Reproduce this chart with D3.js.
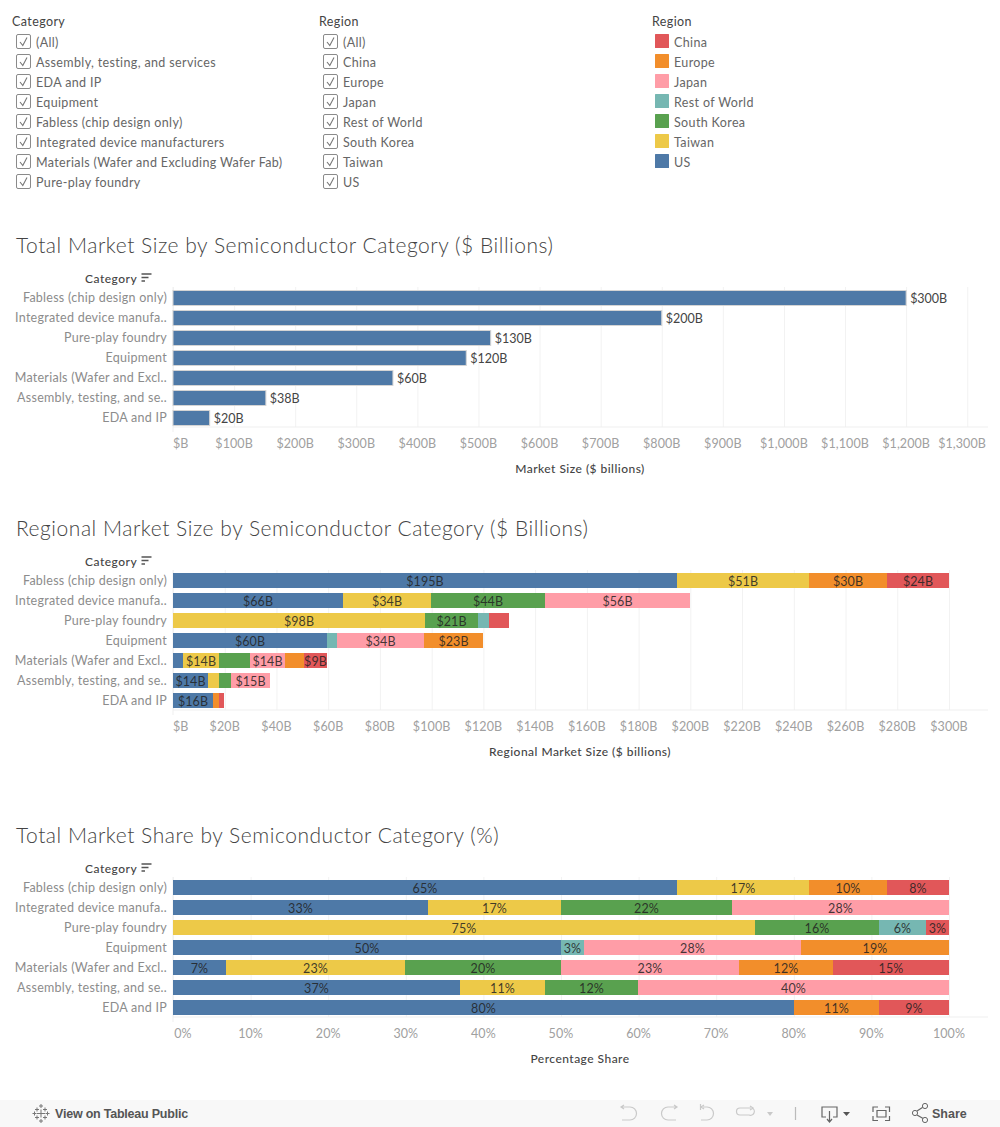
<!DOCTYPE html>
<html><head><meta charset="utf-8">
<script src="https://cdn.jsdelivr.net/npm/d3@7"></script>
<style>
html,body{margin:0;padding:0;background:#fff;overflow:hidden}
svg{display:block}
text{font-family:Lato,"Open Sans",sans-serif}
</style></head><body><svg id="c" width="1000" height="1127"></svg>
<script>
const filterCategories=["(All)","Assembly, testing, and services","EDA and IP","Equipment","Fabless (chip design only)","Integrated device manufacturers","Materials (Wafer and Excluding Wafer Fab)","Pure-play foundry"];
const filterRegions=["(All)","China","Europe","Japan","Rest of World","South Korea","Taiwan","US"];
const regions=["China","Europe","Japan","Rest of World","South Korea","Taiwan","US"];
const regionColors=["#E15759","#F28E2B","#FF9DA7","#76B7B2","#59A14F","#EDC948","#4E79A7"];
const categories=["Fabless (chip design only)","Integrated device manufa..","Pure-play foundry","Equipment","Materials (Wafer and Excl..","Assembly, testing, and se..","EDA and IP"];

const totalValues=[1200,800,520,480,360,152,60];
const totalLabels=["$300B","$200B","$130B","$120B","$60B","$38B","$20B"];
const totalTicks=[0,100,200,300,400,500,600,700,800,900,1000,1100,1200,1300];
const regionalTicks=[0,20,40,60,80,100,120,140,160,180,200,220,240,260,280,300];
const shareTicks=[0,10,20,30,40,50,60,70,80,90,100];

const rowRegions=[
 ["US","Taiwan","Europe","China"],
 ["US","Taiwan","South Korea","Japan"],
 ["Taiwan","South Korea","Rest of World","China"],
 ["US","Rest of World","Japan","Europe"],
 ["US","Taiwan","South Korea","Japan","Europe","China"],
 ["US","Taiwan","South Korea","Japan"],
 ["US","Europe","China"]];
const regionalValues=[
 [195,51,30,24],
 [65.7,34,44,56.3],
 [97.5,20.5,4.2,7.8],
 [59.6,3.7,33.7,22.8],
 [3.9,13.9,11.9,13.5,7.3,9],
 [13.6,4.2,4.6,15.1],
 [15.5,2.3,1.9]];
const regionalLabels=[
 ["$195B","$51B","$30B","$24B"],
 ["$66B","$34B","$44B","$56B"],
 ["$98B","$21B","",""],
 ["$60B","","$34B","$23B"],
 ["","$14B","","$14B","","$9B"],
 ["$14B","","","$15B"],
 ["$16B","",""]];
const shareValues=[
 [65,16.9,10.1,8],
 [32.9,17.1,22,28],
 [75,16,6,3],
 [50,3,27.9,19.1],
 [6.8,23.1,20.1,23,12,15],
 [37,10.9,12,40.1],
 [80,11,9]];

const svg=d3.select("#c");
const color=d3.scaleOrdinal(regions,regionColors);

function txt(x,y,s,o={}){return svg.append("text").attr("x",x).attr("y",y).text(s)
 .attr("font-size",o.size||12.5).attr("fill",o.fill||"#666").attr("text-anchor",o.anchor||"start")
 .attr("font-weight",o.weight||400).attr("letter-spacing",o.ls==null?0.36:o.ls);}

// filters
function checklist(title,items,hx,bx){
 txt(hx,26,title,{fill:"#444",ls:0.4});
 items.forEach((d,i)=>{
  const y=34.5+i*20;
  svg.append("rect").attr("x",bx+.5).attr("y",y).attr("width",14).attr("height",14).attr("rx",1.5).attr("fill","#fff").attr("stroke","#8a8a8a");
  svg.append("path").attr("d",`M${bx+4} ${y+7.5}L${bx+6.8} ${y+11}L${bx+11} ${y+3}`).attr("fill","none").attr("stroke","#777").attr("stroke-width",1.1);
  txt(bx+20,y+12,d);
 });
}
checklist("Category",filterCategories,12,16);
checklist("Region",filterRegions,319,323);
txt(652,26,"Region",{fill:"#444",ls:0.4});
regions.forEach((d,i)=>{
 const y=34+i*20;
 svg.append("rect").attr("x",655).attr("y",y).attr("width",14).attr("height",14).attr("rx",.5).attr("fill",color(d));
 txt(674,y+12.5,d);
});

// shared chart frame
const L=173,R=988,BANDH=20;
function frame(top,titleY,title,axisTitle,axisTitleX,scale,ticks,fmt){
 txt(16,titleY,title,{size:21,fill:"#444",weight:300,ls:0.53});
 txt(85,top-4,"Category",{fill:"#444",size:12,weight:500,ls:0.5});
 svg.append("path").attr("d",`M141.5 ${top-13}H151.5M141.5 ${top-9.5}H148.5M141.5 ${top-6}H145`).attr("stroke","#555").attr("stroke-width",1.5).attr("fill","none");
 const y=d3.scaleBand().domain(categories).range([top,top+BANDH*7]);
 const g=svg.append("g").attr("transform",`translate(0,${top+140})`);
 const ax=d3.axisBottom(scale).tickValues(ticks).tickSize(-140).tickFormat("");
 g.call(ax);
 g.selectAll(".tick line").attr("stroke","#f2f2f2");
 g.select(".domain").remove();
 svg.append("line").attr("x1",L).attr("x2",R).attr("y1",top+140).attr("y2",top+140).attr("stroke","#efefef");
 svg.append("line").attr("x1",L).attr("x2",L).attr("y1",top).attr("y2",top+145).attr("stroke","#efefef");
 categories.forEach(c=>txt(167,y(c)+15,c,{anchor:"end",fill:"#8c8c8c",ls:0.26}));
 ticks.forEach((t,i)=>{
  const s=fmt(t),px=scale(t);
  const w=s.length*7;
  if(i===0&&s==="$B") txt(L,top+161,s,{fill:"#a0a0a0",ls:0.1});
  else if(i===0) txt(L+10,top+161,s,{anchor:"middle",fill:"#a0a0a0",ls:0.1});
  else if(px+w/2>R) txt(R-2,top+161,s,{anchor:"end",fill:"#a0a0a0",ls:0.1});
  else txt(px,top+161,s,{anchor:"middle",fill:"#a0a0a0",ls:0.1});
 });
 txt(axisTitleX,top+186,axisTitle,{anchor:"middle",fill:"#444",size:12,weight:500,ls:0.47});
 return y;
}

// chart 1
const x1=d3.scaleLinear().domain([0,1334]).range([L,R]);
const y1=frame(287,252.5,"Total Market Size by Semiconductor Category ($ Billions)","Market Size ($ billions)",580,x1,totalTicks,t=>t===0?"$B":t>=1000?`$${d3.format(",")(t)}B`:`$${t}B`);
svg.append("g").selectAll("rect").data(totalValues).join("rect")
 .attr("x",x1(0)).attr("y",(d,i)=>y1(categories[i])+3.5).attr("width",d=>x1(d)-x1(0)).attr("height",15)
 .attr("fill","#4E79A7").attr("stroke","#d4d4d4").attr("stroke-width",1);
totalValues.forEach((d,i)=>txt(x1(d)+4,y1(categories[i])+15.5,totalLabels[i],{fill:"#444",ls:0}));

// stacked helper
function stacked(y,x,values,labelFn){
 values.forEach((row,i)=>{
  let acc=0;
  row.forEach((v,j)=>{
   const a=acc,b=acc+v;acc=b;
   const xa=Math.round(x(a)),xb=Math.round(x(b));
   svg.append("rect").attr("x",xa).attr("y",y(categories[i])+3).attr("width",xb-xa).attr("height",15).attr("fill",color(rowRegions[i][j]));
   const s=labelFn(i,j);
   if(s) txt((xa+xb)/2,y(categories[i])+16,s,{anchor:"middle",fill:"#222",ls:0.1}).attr("fill-opacity",.85);
  });
 });
}

// chart 2
const x2=d3.scaleLinear().domain([0,300]).range([L,949]);
const y2=frame(570,535.5,"Regional Market Size by Semiconductor Category ($ Billions)","Regional Market Size ($ billions)",580,x2,regionalTicks,t=>t===0?"$B":`$${t}B`);
stacked(y2,x2,regionalValues,(i,j)=>regionalLabels[i][j]);

// chart 3
const x3=d3.scaleLinear().domain([0,100]).range([L,949]);
const y3=frame(877,842.5,"Total Market Share by Semiconductor Category (%)","Percentage Share",580,x3,shareTicks,t=>`${t}%`);
stacked(y3,x3,shareValues,(i,j)=>`${Math.round(shareValues[i][j])}%`);

// footer
svg.append("rect").attr("x",0).attr("y",1100).attr("width",1000).attr("height",27).attr("fill","#f8f8f8");
const ft=(x,s,fill,ls)=>svg.append("text").attr("x",x).attr("y",1118).text(s).attr("font-size",12.5).attr("fill",fill).attr("font-weight",600).attr("letter-spacing",ls).style("font-family","'Liberation Sans',sans-serif");
ft(55,"View on Tableau Public","#555",-0.22);
ft(932,"Share","#555",0);
const ic=(d,c,w)=>svg.append("path").attr("d",d).attr("fill","none").attr("stroke",c).attr("stroke-width",w||1.2);
// tableau mark
[[41,1113.5,4],[41,1106,2],[41,1121,2],[34.5,1113.5,2],[47.5,1113.5,2],[37,1109.5,2],[45,1109.5,2],[37,1117.5,2],[45,1117.5,2]].forEach(([x,y,r])=>ic(`M${x-r} ${y}H${x+r}M${x} ${y-r}V${y+r}`,"#777",1));
const g="#c9c9c9";
ic("M622 1107H630a6 6 0 0 1 0 13H622M624 1105L621 1107L624 1109",g);
ic("M676 1107H668a6 6 0 0 0 0 13H676M674 1105L677 1107L674 1109",g);
ic("M703 1107H707a6 6 0 0 1 0 13H701M704 1105L701 1107L704 1109M700.5 1104V1110",g);
ic("M751 1108H740a3.5 3.5 0 0 0 0 7H749a3.5 3.5 0 0 0 3-7M750 1106L753 1108L750 1110",g);
svg.append("path").attr("d","M767 1112H773L770 1116Z").attr("fill","#c9c9c9");
ic("M795.5 1107V1120","#bbb");
ic("M826 1117H822V1107H837V1117H833M829.5 1111V1121M827 1119L829.5 1122L832 1119","#666");
svg.append("path").attr("d","M843 1112H850L846.5 1116Z").attr("fill","#555");
ic("M873 1112V1107H878M885 1107H889.5V1112M889.5 1116V1120.5H885M878 1120.5H873V1116M877 1110.5H886V1117H877Z","#666");
ic("M917 1111L924 1106.5M917 1115L924 1119","#666");
[[915,1113],[925,1106],[925,1120]].forEach(([x,y])=>svg.append("circle").attr("cx",x).attr("cy",y).attr("r",2.6).attr("fill","#f8f8f8").attr("stroke","#666"));
</script></body></html>
